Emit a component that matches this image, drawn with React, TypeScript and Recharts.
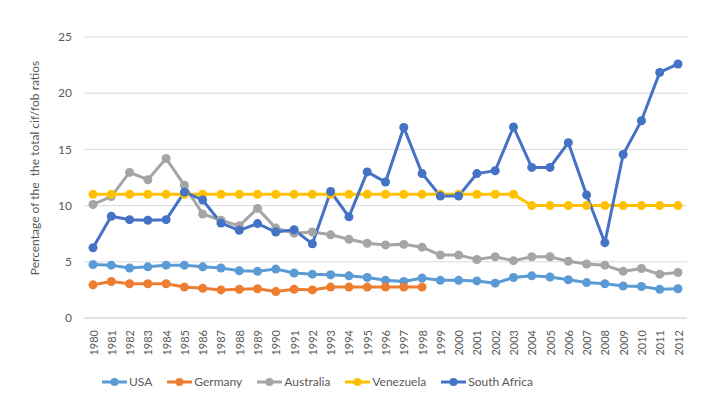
import React from "react";
import {
  LineChart,
  Line,
  XAxis,
  YAxis,
  CartesianGrid,
  Legend,
} from "recharts";

const years = [
  "1980", "1981", "1982", "1983", "1984", "1985", "1986", "1987", "1988", "1989",
  "1990", "1991", "1992", "1993", "1994", "1995", "1996", "1997", "1998", "1999",
  "2000", "2001", "2002", "2003", "2004", "2005", "2006", "2007", "2008", "2009",
  "2010", "2011", "2012",
];

const usa = [
  4.75, 4.7, 4.45, 4.55, 4.7, 4.7, 4.55, 4.45, 4.2, 4.15, 4.35, 4.0, 3.9, 3.85,
  3.75, 3.6, 3.35, 3.25, 3.55, 3.35, 3.35, 3.3, 3.1, 3.6, 3.75, 3.65, 3.4, 3.15,
  3.05, 2.85, 2.8, 2.55, 2.6,
];

const germany = [
  2.95, 3.25, 3.05, 3.05, 3.05, 2.75, 2.65, 2.5, 2.55, 2.6, 2.35, 2.55, 2.5, 2.75,
  2.75, 2.75, 2.75, 2.75, 2.75, null, null, null, null, null, null, null, null,
  null, null, null, null, null, null,
];

const australia = [
  10.1, 10.8, 12.95, 12.3, 14.2, 11.8, 9.25, 8.7, 8.2, 9.75, 8.0, 7.55, 7.65, 7.4,
  7.0, 6.65, 6.5, 6.55, 6.3, 5.6, 5.6, 5.2, 5.45, 5.1, 5.45, 5.45, 5.05, 4.8, 4.7,
  4.15, 4.4, 3.9, 4.05,
];

const venezuela = [
  11, 11, 11, 11, 11, 11, 11, 11, 11, 11, 11, 11, 11, 11, 11, 11, 11, 11, 11, 11,
  11, 11, 11, 11, 10, 10, 10, 10, 10, 10, 10, 10, 10,
];

const southAfrica = [
  6.25, 9.05, 8.75, 8.7, 8.75, 11.2, 10.5, 8.45, 7.8, 8.4, 7.65, 7.85, 6.6, 11.25,
  9.0, 13.0, 12.1, 16.95, 12.85, 10.85, 10.85, 12.85, 13.1, 17.0, 13.4, 13.4, 15.6,
  10.95, 6.7, 14.55, 17.55, 21.85, 22.6,
];

const yTicks = [0, 5, 10, 15, 20, 25];

const data = years.map((year, i) => ({
  year,
  usa: usa[i],
  germany: germany[i],
  australia: australia[i],
  venezuela: venezuela[i],
  southAfrica: southAfrica[i],
}));

const series = [
  { key: "usa", name: "USA", color: "#5B9BD5" },
  { key: "germany", name: "Germany", color: "#ED7D31" },
  { key: "australia", name: "Australia", color: "#A5A5A5" },
  { key: "venezuela", name: "Venezuela", color: "#FFC000" },
  { key: "southAfrica", name: "South Africa", color: "#4472C4" },
];

const font = "Lato, 'Open Sans', sans-serif";
const textColor = "#595959";

function YearTick({ x, y, payload }: any) {
  const ty = y + 10;
  return (
    <text
      x={x}
      y={ty}
      transform={`rotate(-90, ${x}, ${ty})`}
      textAnchor="end"
      dominantBaseline="central"
      fontSize={11}
      fontFamily={font}
      fill={textColor}
    >
      {payload.value}
    </text>
  );
}

function YTitle() {
  return (
    <text
      x={34}
      y={168}
      transform="rotate(-90, 34, 168)"
      textAnchor="middle"
      dominantBaseline="central"
      fontSize={12}
      fontFamily={font}
      fill={textColor}
      style={{ whiteSpace: "pre" }}
    >
      {"Percentage of the  the total cif/fob ratios"}
    </text>
  );
}

function LegendContent() {
  return (
    <div
      style={{
        display: "flex",
        alignItems: "center",
        fontFamily: font,
        fontSize: 12,
        color: textColor,
        lineHeight: "24px",
        whiteSpace: "nowrap",
      }}
    >
      {series.map((s) => (
        <div
          key={s.key}
          style={{ display: "flex", alignItems: "center", marginRight: 15 }}
        >
          <svg width={25} height={10}>
            <line x1={0} y1={5} x2={25} y2={5} stroke={s.color} strokeWidth={3} />
            <circle cx={12.5} cy={5} r={4} fill={s.color} />
          </svg>
          <span style={{ marginLeft: 2 }}>{s.name}</span>
        </div>
      ))}
    </div>
  );
}

export default function App() {
  return (
    <div style={{ position: "absolute", left: 0, top: 0, background: "#fff" }}>
      <LineChart
        width={702}
        height={408}
        data={data}
        margin={{ top: 37, right: 15, left: 0, bottom: 14 }}
      >
        <CartesianGrid vertical={false} stroke="#d9d9d9" strokeWidth={1} />
        <XAxis
          dataKey="year"
          interval={0}
          height={52}
          padding={{ left: 9, right: 9 }}
          axisLine={{ stroke: "#d9d9d9" }}
          tickLine={false}
          tickSize={0}
          tick={<YearTick />}
        />
        <YAxis
          width={84}
          domain={[0, 25]}
          ticks={yTicks}
          axisLine={false}
          tickLine={false}
          tickSize={0}
          tickMargin={12}
          tick={{ fontSize: 12, fontFamily: font, fill: textColor }}
          label={<YTitle />}
        />
        <Legend
          verticalAlign="bottom"
          height={24}
          content={<LegendContent />}
          wrapperStyle={{ left: 102, top: 370, bottom: "auto", width: 560, height: 24 }}
        />
        {series.map((s) => (
          <Line
            key={s.key}
            dataKey={s.key}
            name={s.name}
            type="linear"
            stroke={s.color}
            strokeWidth={3}
            dot={{ r: 4.5, fill: s.color, stroke: s.color, strokeWidth: 0 }}
            activeDot={false}
            connectNulls={false}
            isAnimationActive={false}
          />
        ))}
      </LineChart>
    </div>
  );
}
